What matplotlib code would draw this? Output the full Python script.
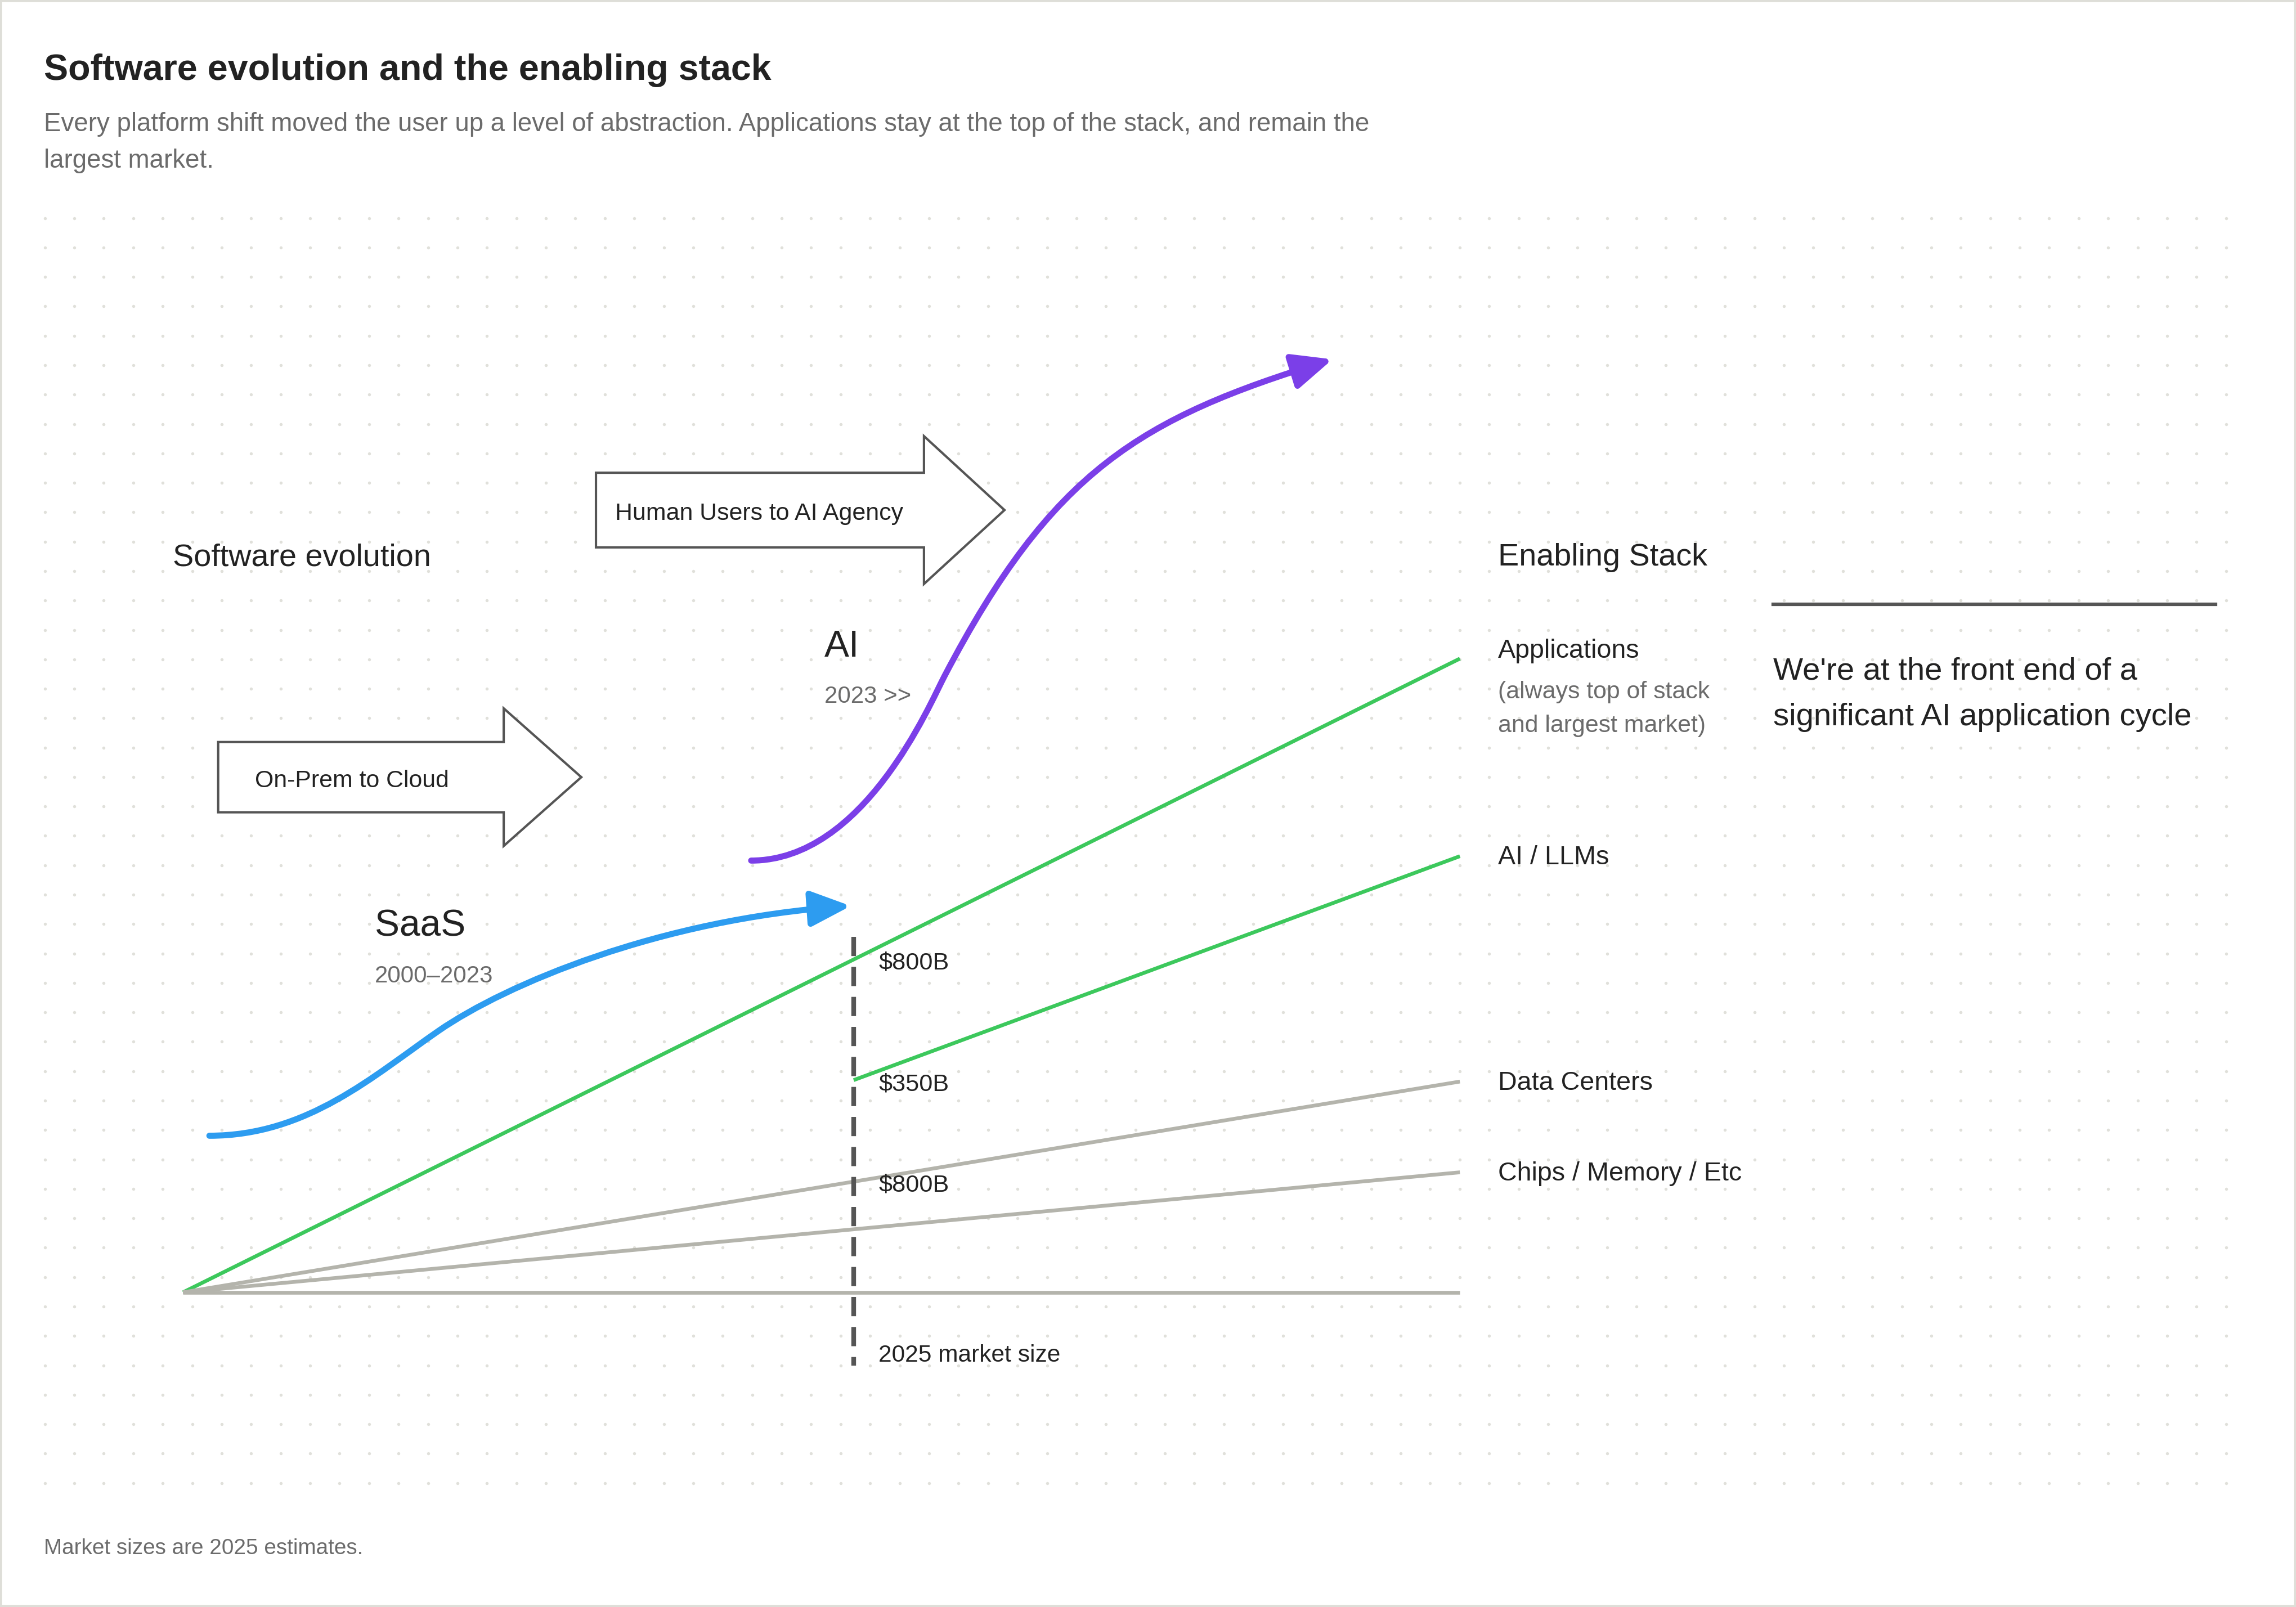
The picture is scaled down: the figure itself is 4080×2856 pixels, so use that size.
import matplotlib
matplotlib.use("Agg")
import matplotlib.pyplot as plt
import numpy as np
from matplotlib.path import Path
from matplotlib.patches import FancyArrowPatch, Polygon, Rectangle

plt.rcParams["font.family"] = ["Liberation Sans", "DejaVu Sans"]

# canvas is laid out in a 1568 x 1098 unit space (y grows downwards)
W, H = 1568, 1098

# enabling stack layers: start / end points of each line
stack_labels = ["Applications", "AI / LLMs", "Data Centers", "Chips / Memory / Etc", ""]
stack_x0 = [125, 583, 125, 125, 125]
stack_y0 = [883, 738, 883, 883, 883]
stack_x1 = [997, 997, 997, 997, 997]
stack_y1 = [450, 585, 739, 801, 883]
stack_colors = ["#3CC85C", "#3CC85C", "#B4B4AC", "#B4B4AC", "#B4B4AC"]

# 2025 market sizes read along the dashed marker
market_x = 583
market_labels = ["$800B", "$350B", "$800B"]
market_label_y = [656, 739, 808]

# software evolution curves (bezier control points)
saas_x = [143, 210, 255, 300, 345, 450, 581]
saas_y = [776, 776, 735, 704, 673, 628, 619]
ai_x = [513, 590, 635, 645, 718.6, 779.4, 910]
ai_y = [588, 588, 481, 462, 321.2, 285.6, 245.5]

# platform shift block arrows
shift_labels = ["On-Prem to Cloud", "Human Users to AI Agency"]
shift_left = [149, 407]
shift_body_top = [507, 323]
shift_body_bot = [555, 374]
shift_head_x = [344, 631]
shift_head_top = [484, 298]
shift_head_bot = [578, 399]
shift_tip_x = [397, 686]
shift_text_x = [174, 420]

fig = plt.figure(figsize=(13.6, 9.52), dpi=300)
ax = fig.add_axes([0, 0, 1, 1])
ax.set_xlim(0, W)
ax.set_ylim(H, 0)
ax.axis("off")

DARK = "#222222"
GREY = "#6B6B6B"
DY = 2  # small baseline nudge for text


def label(x, y, s, size, color=DARK, **kw):
    ax.text(x, y + DY, s, fontsize=size, color=color, va="center", **kw)


# dotted background
gx, gy = np.meshgrid(np.arange(30.6, 1526, 20.13), np.arange(149, 1016, 20.1))
ax.scatter(gx.ravel(), gy.ravel(), s=1.7, color="#E0E0DA", linewidths=0, zorder=0)

# frame
ax.add_patch(Rectangle((0, 0), W, H, fill=False, ec="#DEDED8", lw=1.8, zorder=0))

label(30, 46, "Software evolution and the enabling stack", 15.5, fontweight="bold")
label(30, 83, "Every platform shift moved the user up a level of abstraction. "
      "Applications stay at the top of the stack, and remain the", 10.96, GREY)
label(30, 108, "largest market.", 10.96, GREY)
label(30, 1056, "Market sizes are 2025 estimates.", 9.3, GREY)

# stack lines
for i in range(len(stack_labels)):
    ax.plot([stack_x0[i], stack_x1[i]], [stack_y0[i], stack_y1[i]],
            color=stack_colors[i], lw=1.6, solid_capstyle="butt", zorder=2)
    if stack_labels[i]:
        label(1023, stack_y1[i] - 7 if i == 0 else stack_y1[i] - 1, stack_labels[i], 11.2)

label(1023, 471, "(always top of stack", 10.3, GREY)
label(1023, 494, "and largest market)", 10.3, GREY)
label(1023, 379, "Enabling Stack", 13.4)

# dashed 2025 marker
ax.plot([market_x, market_x], [640, 933], color="#555555", lw=2,
        linestyle=(0, (4.1, 2.3)), zorder=3)
for lab, y in zip(market_labels, market_label_y):
    label(600, y, lab, 10.4)
label(600, 924, "2025 market size", 10.2)

# evolution curves
codes = [Path.MOVETO] + [Path.CURVE4] * 6
for cx, cy, col in [(saas_x, saas_y, "#2D9CF0"), (ai_x, ai_y, "#7B3FE8")]:
    p = Path(np.column_stack([cx, cy]), codes)
    arr = FancyArrowPatch(path=p, arrowstyle="-|>,head_length=0.72,head_width=0.32",
                          mutation_scale=20, color=col, lw=2.6, shrinkA=0, shrinkB=0,
                          capstyle="round", zorder=4)
    ax.add_patch(arr)

label(118, 379, "Software evolution", 13.4)
label(256, 631, "SaaS", 15.8)
label(256, 665, "2000\u20132023", 10.1, GREY)
label(563, 440, "AI", 15.8)
label(563, 474, "2023 >>", 10.1, GREY)

# block arrows
for i in range(len(shift_labels)):
    mid = (shift_body_top[i] + shift_body_bot[i]) / 2
    verts = [(shift_left[i], shift_body_top[i]), (shift_head_x[i], shift_body_top[i]),
             (shift_head_x[i], shift_head_top[i]), (shift_tip_x[i], mid),
             (shift_head_x[i], shift_head_bot[i]), (shift_head_x[i], shift_body_bot[i]),
             (shift_left[i], shift_body_bot[i])]
    ax.add_patch(Polygon(verts, closed=True, fc="white", ec="#555555", lw=1.0, zorder=3))
    label(shift_text_x[i], mid + 0.5, shift_labels[i], 10.3, zorder=5)

# takeaway
ax.plot([1211, 1513], [413, 413], color="#555555", lw=1.5)
label(1211, 457, "We're at the front end of a", 13.5)
label(1211, 488, "significant AI application cycle", 13.5)

fig.savefig("out.png", dpi=300)
